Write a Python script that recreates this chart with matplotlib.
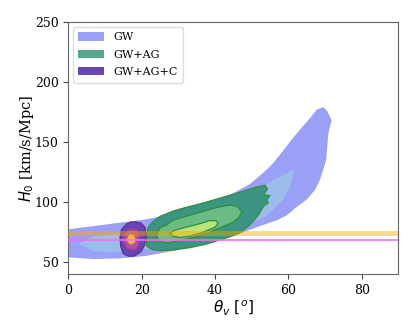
import matplotlib
matplotlib.use("Agg")
import matplotlib.pyplot as plt
from matplotlib.patches import Patch

# ---- data: contour outlines (theta_v [deg], H0) ----
gw_outer_x = [-3, 0, 7, 14, 21, 28, 35, 42, 45, 49.5, 54.1, 56, 58.6, 61.4, 63.6, 65.9, 67.7, 69.5,
              70.6, 71.8, 70.9, 70.6, 70.3, 69.5, 68.6, 67.3, 65.0, 62.3, 59.6, 57, 52.3, 47, 41,
              35, 28.6, 21.4, 14, 7, 0, -3]
gw_outer_y = [77, 77.3, 80, 82.8, 85.5, 89.7, 96, 104, 107.5, 115, 127, 133, 143, 154, 162,
              170, 177, 179.2, 175.9, 168.2, 157.2, 146.1, 135.1, 126.9, 118.6, 110.3, 102.1,
              96, 89, 85, 80, 74, 69, 64, 59.3, 55.2, 53, 52.5, 53.9, 54]
gw_inner_x = [2.7, 6.8, 11.4, 16, 22, 30, 38, 45, 50, 53.2, 55.9, 59.6, 61.4, 61.4, 60.5, 58.6,
              55.9, 53.2, 48, 42, 35, 28, 20, 11.4, 6.8]
gw_inner_y = [65, 71.5, 73, 74.5, 76.5, 80, 86, 95, 104, 113, 118.6, 124, 126.9, 124, 113, 102,
              93.8, 87, 81, 75, 69, 64, 60, 58, 59.3]

ag_outer_x = [21.3, 21.3, 21.8, 23, 25, 28.6, 31.4, 35.9, 40.5, 45, 48.7, 51.4, 53.6, 54.3, 53.2,
              55.0, 54.1, 54.5, 53.2, 51.8, 49.5, 46.8, 45, 41.4, 37.7, 33.2, 28.6, 25, 22.8, 21.5]
ag_outer_y = [64, 72, 79, 83.5, 88, 92.5, 95, 98.5, 102.5, 106.5, 110, 112.5, 114, 111, 106.2,
              105.4, 102, 99.3, 96.5, 89, 81, 74.5, 72, 68.5, 65, 62, 60, 59.5, 60.5, 63]
ag_mid_x = [24, 25, 26.8, 28.6, 31.4, 35.9, 40.5, 44, 46, 47.3, 46.5, 45, 41.4, 37.7, 35.9, 31.4,
            28, 26, 24.5]
ag_mid_y = [73, 78.5, 81, 85, 87.5, 91.5, 95.5, 97.5, 96.5, 92, 87, 83.5, 78.5, 74, 72, 68.5,
            66.3, 66.3, 68.5]
ag_inner_x = [27.7, 29, 31.4, 34, 36.5, 38.5, 40.3, 40.8, 40, 38, 35.9, 33, 30.5, 28.5]
ag_inner_y = [74, 76.5, 78.5, 80.5, 82.5, 84.5, 84.5, 82, 79, 76.5, 74, 71.5, 70.5, 71.5]

agc_outer_x = [18.3, 19.8, 20.9, 21.2, 20.8, 19.8, 18, 16.4, 15, 14.3, 14.1, 14.5, 15.8, 17]
agc_outer_y = [83.5, 82.5, 79, 72, 64, 58.5, 55, 54.8, 57, 63, 70, 77, 81.5, 83.3]
agc_mid_x = [17.6, 18.8, 19.4, 19.2, 18.3, 17, 15.8, 15.1, 15.3, 16.3]
agc_mid_y = [78, 76.5, 71, 64, 60.5, 60, 62, 67, 73, 77]
agc_inner_x = [17.3, 18.1, 18.3, 17.9, 17, 16.3, 16.1, 16.5]
agc_inner_y = [73.2, 71.5, 68, 65.5, 64.8, 66.5, 69.5, 72.3]

shoes_band = [72.0, 75.8]
planck_value = 68.7

legend_labels = ["GW", "GW+AG", "GW+AG+C"]
xticks = [0, 20, 40, 60, 80]
yticks = [50, 100, 150, 200, 250]

# ---- figure ----
plt.rcParams['font.family'] = 'serif'
plt.rcParams['font.serif'] = ['DejaVu Serif']
plt.rcParams['mathtext.fontset'] = 'dejavusans'

fig = plt.figure(figsize=(4.15, 3.32), dpi=100)
ax = fig.add_axes([0.1646, 0.1747, 0.7954, 0.7583])

ax.fill(gw_outer_x, gw_outer_y, color='#9ba0f7', lw=0, zorder=1)
ax.fill(gw_inner_x, gw_inner_y, color='#9cbdeb', lw=0, zorder=2)

ax.fill(ag_outer_x, ag_outer_y, facecolor='#3c9582', edgecolor='#2b8f3c', lw=0.9, zorder=3)
ax.fill(ag_mid_x, ag_mid_y, facecolor='#6cbb85', edgecolor='#2b8f3c', lw=0.9, zorder=4)
ax.fill(ag_inner_x, ag_inner_y, facecolor='#bce27c', edgecolor='#2b8f3c', lw=0.9, zorder=5)

ax.fill(agc_outer_x, agc_outer_y, facecolor='#6a45b6', edgecolor='#5b2a9c', lw=0.9, zorder=6)
ax.fill(agc_mid_x, agc_mid_y, facecolor='#a553a6', edgecolor='#b4359a', lw=0.9, zorder=7)
ax.fill(agc_inner_x, agc_inner_y, facecolor='#f0b653', edgecolor='#d8a040', lw=0.6, zorder=8)

ax.axhspan(shoes_band[0], shoes_band[1], color='#ffa500', alpha=0.42, lw=0, zorder=9)
ax.axhline(planck_value, color='#ff66ff', alpha=0.9, lw=1.3, zorder=9)

ax.set_xlim(0, 90)
ax.set_ylim(40, 250)
ax.set_xticks(xticks)
ax.set_yticks(yticks)
ax.tick_params(labelsize=9, length=3.5, width=0.8, color='#444444')
for s in ax.spines.values():
    s.set_color('#666666')
    s.set_linewidth(0.8)

ax.set_xlabel(r'$\theta_v$ $[^o]$', fontsize=11, labelpad=1)
ax.set_ylabel(r'$H_0$ [km/s/Mpc]', fontsize=10.5, labelpad=-1)

handles = [Patch(facecolor='#9ba0f7', edgecolor='none'),
           Patch(facecolor='#55a88c', edgecolor='none'),
           Patch(facecolor='#6a45b6', edgecolor='none')]
ax.legend(handles, legend_labels, loc='upper left', fontsize=8, frameon=True,
          handlelength=2.3, handleheight=0.8, borderpad=0.5, labelspacing=0.65,
          handletextpad=0.85, framealpha=1, edgecolor='#dddddd', fancybox=True,
          borderaxespad=0.4)

fig.savefig('out.png', dpi=100)
